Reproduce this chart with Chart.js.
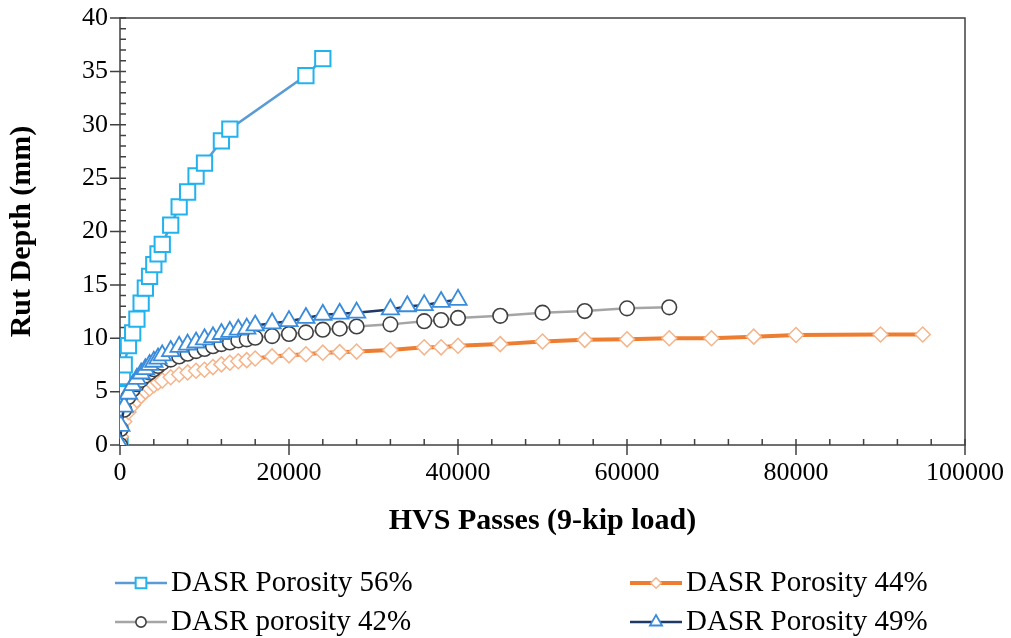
<!DOCTYPE html>
<html>
<head>
<meta charset="utf-8">
<script src="https://cdn.jsdelivr.net/npm/chart.js@4.4.0/dist/chart.umd.min.js"></script>
<style>
  html, body { margin: 0; padding: 0; background: #fff; }
  #wrap { width: 1011px; height: 638px; }
</style>
</head>
<body>
<div id="wrap"><canvas id="rutChart" width="1011" height="638"></canvas></div>
<script>
// HVS passes vs rut depth (mm) for each DASR mix
const passes56 = [0, 100, 300, 500, 1000, 1500, 2000, 2500, 3000, 3500, 4000, 4500, 5000, 6000, 7000, 8000, 9000, 10000, 12000, 13000, 22000, 24000];
const rut56 = [0, 4.8, 6.4, 7.5, 9.3, 10.5, 11.8, 13.3, 14.7, 15.8, 16.9, 17.9, 18.8, 20.6, 22.3, 23.7, 25.2, 26.4, 28.5, 29.6, 34.6, 36.2];

const passes44 = [0, 100, 500, 1000, 1500, 2000, 2500, 3000, 3500, 4000, 4500, 5000, 6000, 7000, 8000, 9000, 10000, 11000, 12000, 13000, 14000, 15000, 16000, 18000, 20000, 22000, 24000, 26000, 28000, 32000, 36000, 38000, 40000, 45000, 50000, 55000, 60000, 65000, 70000, 75000, 80000, 90000, 95000];
const rut44 = [0, 0.8, 2.2, 3.1, 3.7, 4.2, 4.6, 5.0, 5.3, 5.6, 5.85, 6.05, 6.35, 6.6, 6.8, 6.95, 7.05, 7.3, 7.55, 7.7, 7.85, 7.95, 8.1, 8.3, 8.4, 8.5, 8.65, 8.7, 8.75, 8.9, 9.15, 9.15, 9.3, 9.45, 9.7, 9.85, 9.9, 10.0, 10.0, 10.15, 10.3, 10.35, 10.35];

const passes42 = [0, 100, 500, 1000, 1500, 2000, 2500, 3000, 3500, 4000, 4500, 5000, 6000, 7000, 8000, 9000, 10000, 11000, 12000, 13000, 14000, 15000, 16000, 18000, 20000, 22000, 24000, 26000, 28000, 32000, 36000, 38000, 40000, 45000, 50000, 55000, 60000, 65000];
const rut42 = [0, 1.5, 3.3, 4.5, 5.2, 5.7, 6.1, 6.5, 6.8, 7.1, 7.4, 7.7, 8.0, 8.3, 8.55, 8.8, 9.0, 9.25, 9.45, 9.6, 9.8, 9.9, 10.05, 10.2, 10.4, 10.55, 10.8, 10.9, 11.1, 11.3, 11.6, 11.7, 11.9, 12.1, 12.4, 12.55, 12.8, 12.9];

const passes49 = [0, 100, 500, 1000, 1500, 2000, 2500, 3000, 3500, 4000, 4500, 5000, 6000, 7000, 8000, 9000, 10000, 11000, 12000, 13000, 14000, 15000, 16000, 18000, 20000, 22000, 24000, 26000, 28000, 32000, 34000, 36000, 38000, 40000];
const rut49 = [0, 1.8, 3.6, 4.8, 5.6, 6.2, 6.7, 7.1, 7.5, 7.8, 8.1, 8.4, 8.8, 9.2, 9.4, 9.6, 9.9, 10.1, 10.4, 10.6, 10.8, 10.9, 11.2, 11.4, 11.6, 11.9, 12.2, 12.3, 12.4, 12.7, 13.0, 13.1, 13.4, 13.6];

const seriesNames = ['DASR Porosity 56%', 'DASR Porosity 44%', 'DASR porosity 42%', 'DASR Porosity 49%'];

// axis ticks: labelled majors, unlabelled minors in between
const xTickValues = [0, 20000, 40000, 60000, 80000, 100000];
const yTickValues = [0, 5, 10, 15, 20, 25, 30, 35, 40];
const xMinorStep = 4000;
const yMinorStep = 1;

const serif = '"Liberation Serif", "Times New Roman", serif';
const axisColor = '#404040';

const toPoints = (xs, ys) => xs.map((x, i) => ({ x: x, y: ys[i] }));

function drawMarker(ctx, style, x, y, r) {
  ctx.beginPath();
  if (style === 'rect') {
    const h = r * Math.SQRT1_2;
    ctx.rect(x - h, y - h, 2 * h, 2 * h);
  } else if (style === 'rectRot') {
    ctx.moveTo(x, y - r);
    ctx.lineTo(x + r, y);
    ctx.lineTo(x, y + r);
    ctx.lineTo(x - r, y);
    ctx.closePath();
  } else if (style === 'triangle') {
    const w = r * Math.sin(Math.PI / 3);
    ctx.moveTo(x, y - r);
    ctx.lineTo(x + w, y + r / 2);
    ctx.lineTo(x - w, y + r / 2);
    ctx.closePath();
  } else {
    ctx.arc(x, y, r, 0, Math.PI * 2);
  }
  ctx.fill();
  ctx.stroke();
}

// plot frame plus tick marks (majors cross the axis, minors point inward)
const framePlugin = {
  id: 'frame',
  beforeDatasetsDraw(chart) {
    const { ctx, chartArea: a, scales: { x, y } } = chart;
    ctx.save();
    ctx.strokeStyle = axisColor;
    ctx.lineWidth = 1.5;
    ctx.strokeRect(a.left, a.top, a.right - a.left, a.bottom - a.top);
    ctx.beginPath();
    for (let v = x.min; v <= x.max; v += xMinorStep) {
      const px = x.getPixelForValue(v);
      const major = xTickValues.includes(v);
      ctx.moveTo(px, a.bottom - 6);
      ctx.lineTo(px, a.bottom + (major ? 10 : 0));
    }
    for (let v = y.min; v <= y.max; v += yMinorStep) {
      const py = y.getPixelForValue(v);
      const major = yTickValues.includes(v);
      ctx.moveTo(a.left + 6, py);
      ctx.lineTo(a.left - (major ? 10 : 0), py);
    }
    ctx.stroke();
    ctx.restore();
  }
};

// two-column legend under the axis title
const legendSpots = [
  { x: 115, y: 583 }, { x: 630, y: 583 },
  { x: 115, y: 622 }, { x: 630, y: 622 }
];
const legendPlugin = {
  id: 'pairLegend',
  afterDraw(chart) {
    const ctx = chart.ctx;
    ctx.save();
    chart.data.datasets.forEach((ds, i) => {
      const s = legendSpots[i];
      ctx.strokeStyle = ds.borderColor;
      ctx.lineWidth = ds.borderWidth;
      ctx.beginPath();
      ctx.moveTo(s.x, s.y);
      ctx.lineTo(s.x + 52, s.y);
      ctx.stroke();
      ctx.fillStyle = '#fff';
      ctx.strokeStyle = ds.pointBorderColor;
      ctx.lineWidth = ds.pointBorderWidth;
      drawMarker(ctx, ds.pointStyle, s.x + 26, s.y, ds.pointRadius * 0.7);
      ctx.fillStyle = '#000';
      ctx.font = '29px ' + serif;
      ctx.textBaseline = 'middle';
      ctx.fillText(ds.label, s.x + 56, s.y);
    });
    ctx.restore();
  }
};

const datasets = [
  {
    label: seriesNames[0], data: toPoints(passes56, rut56), order: 3,
    borderColor: '#5B9BD5', borderWidth: 2.5,
    pointStyle: 'rect', pointRadius: 10.8, pointBorderColor: '#22B2EE', pointBorderWidth: 2
  },
  {
    label: seriesNames[1], data: toPoints(passes44, rut44), order: 2,
    borderColor: '#ED7D31', borderWidth: 4,
    pointStyle: 'rectRot', pointRadius: 7.5, pointBorderColor: '#F6B48A', pointBorderWidth: 1.5
  },
  {
    label: seriesNames[2], data: toPoints(passes42, rut42), order: 1,
    borderColor: '#A5A5A5', borderWidth: 2.5,
    pointStyle: 'circle', pointRadius: 7.3, pointBorderColor: '#404040', pointBorderWidth: 1.6
  },
  {
    label: seriesNames[3], data: toPoints(passes49, rut49), order: 0,
    borderColor: '#203864', borderWidth: 2.5,
    pointStyle: 'triangle', pointRadius: 10, pointBorderColor: '#3A8CDB', pointBorderWidth: 1.8
  }
];
datasets.forEach(ds => {
  ds.pointBackgroundColor = '#fff';
  ds.tension = 0;
  ds.fill = false;
});

new Chart(document.getElementById('rutChart'), {
  type: 'line',
  data: { datasets: datasets },
  plugins: [framePlugin, legendPlugin],
  options: {
    responsive: false,
    animation: false,
    devicePixelRatio: 1,
    layout: { padding: { top: 18, right: 46, bottom: 95, left: 0 } },
    plugins: { legend: { display: false }, tooltip: { enabled: false } },
    scales: {
      x: {
        type: 'linear', min: 0, max: 100000,
        afterBuildTicks: scale => { scale.ticks = xTickValues.map(v => ({ value: v })); },
        afterFit: scale => {
          scale.height = 98;
          scale.paddingLeft = 0;
          scale.paddingRight = 0;
        },
        grid: { display: false, drawTicks: false },
        border: { display: false },
        ticks: {
          color: '#000', font: { family: serif, size: 26 }, padding: 13, maxRotation: 0, autoSkip: false,
          callback: v => String(v)
        },
        title: {
          display: true, text: 'HVS Passes (9-kip load)', color: '#000',
          font: { family: serif, size: 30, weight: 'bold' }, padding: { top: 0, bottom: 4 }
        }
      },
      y: {
        min: 0, max: 40,
        afterBuildTicks: scale => { scale.ticks = yTickValues.map(v => ({ value: v })); },
        afterFit: scale => {
          scale.width = 120;
          scale.paddingTop = 0;
          scale.paddingBottom = 0;
        },
        grid: { display: false, drawTicks: false },
        border: { display: false },
        ticks: { color: '#000', font: { family: serif, size: 26 }, padding: 12, callback: v => String(v) },
        title: {
          display: true, text: 'Rut Depth (mm)', color: '#000',
          font: { family: serif, size: 30, weight: 'bold' }, padding: { top: 4, bottom: 0 }
        }
      }
    }
  }
});
</script>
</body>
</html>
